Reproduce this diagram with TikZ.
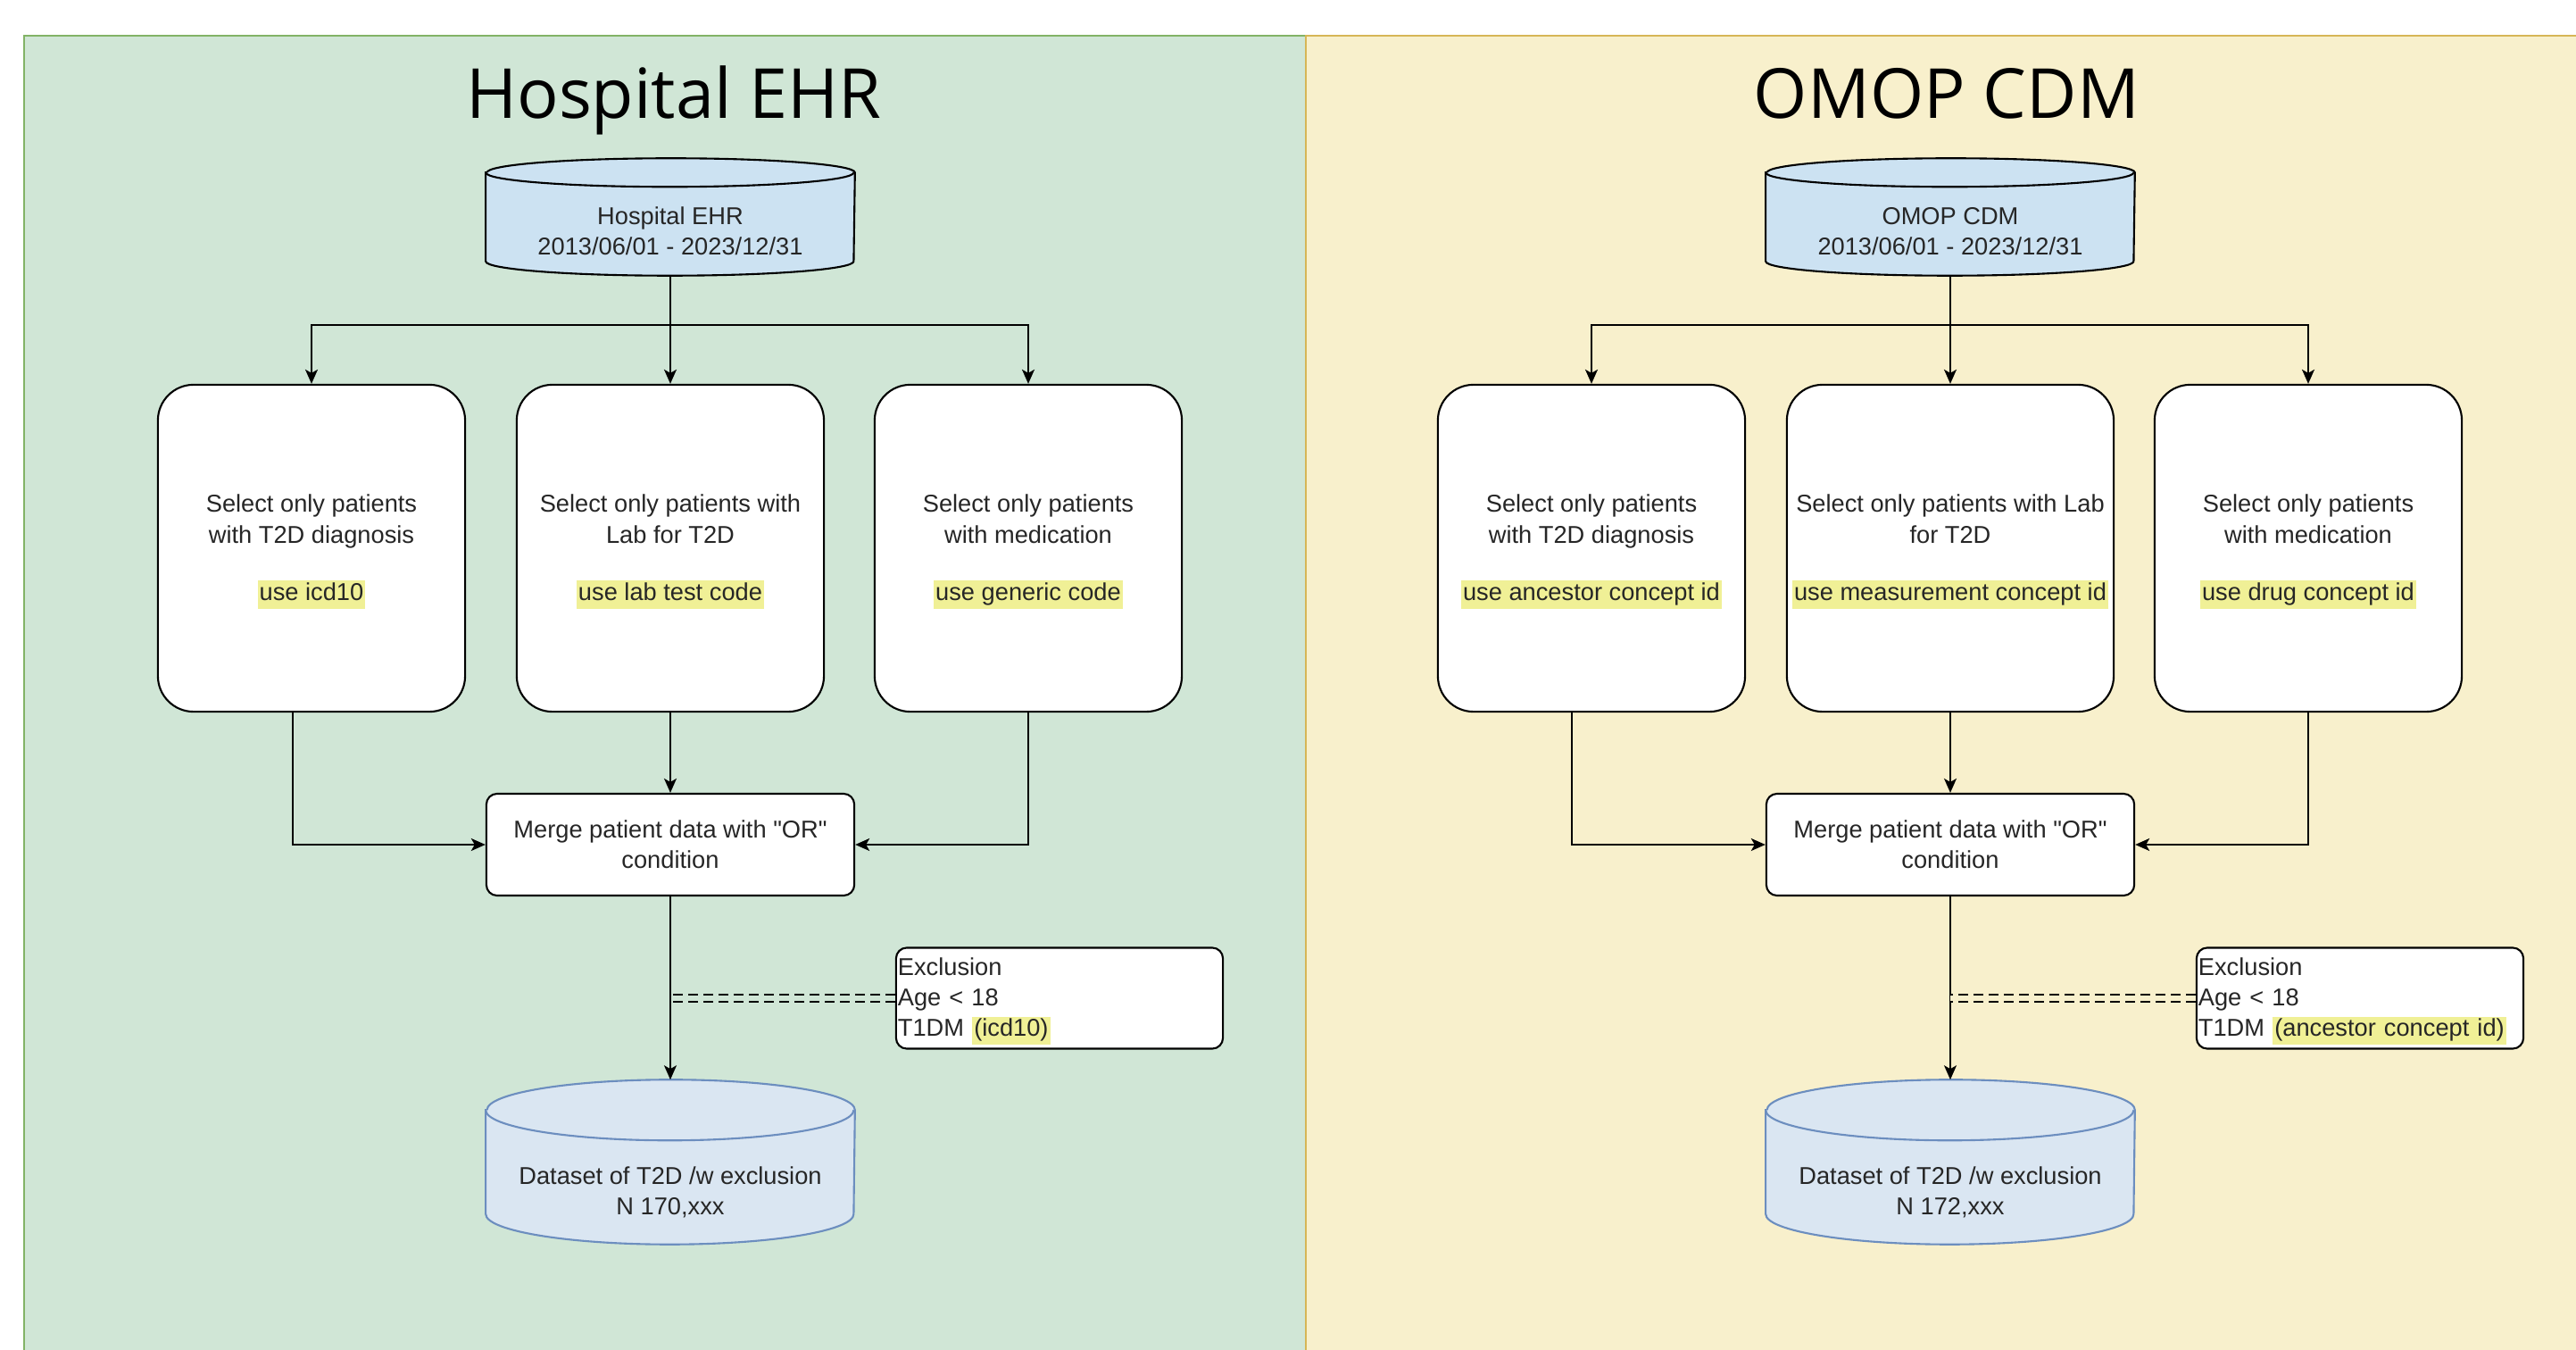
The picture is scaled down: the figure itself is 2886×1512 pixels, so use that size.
\documentclass[tikz,border=0pt]{standalone}
\usepackage{fontspec}
\setmainfont{Liberation Sans}
\newfontfamily\titlefont{Open Sans}
\usepackage{xcolor}
\usetikzlibrary{arrows.meta,calc,backgrounds}

\definecolor{ehrgreen}{RGB}{208,230,214}
\definecolor{ehrline}{RGB}{130,179,102}
\definecolor{omopyellow}{RGB}{248,240,204}
\definecolor{omopline}{RGB}{214,182,86}
\definecolor{dbblue}{RGB}{204,226,242}
\definecolor{setblue}{RGB}{218,230,242}
\definecolor{setline}{RGB}{108,142,191}
\definecolor{hiyel}{RGB}{240,240,150}

% highlighted code text
\newcommand\hlt[1]{{\setlength\fboxsep{0pt}\colorbox{hiyel}{\rule[-2.6pt]{0pt}{8.9pt}\kern0.6pt#1\kern0.6pt}}}
% strut on the first line of a box
\newcommand\topstrut{\rule{0pt}{7.8pt}}
% cylinder round a node: name, ellipse y radius, style
\newcommand\dbshape[3]{%
  \filldraw[#3] ([yshift=#2]#1.north west) -- ([yshift=#2]#1.south west)
    arc[start angle=180, end angle=360, x radius=2.06cm, y radius=#2]
    -- ([yshift=#2]#1.north east)
    arc[start angle=0, end angle=180, x radius=2.06cm, y radius=#2] -- cycle;
  \draw[#3] ([yshift=#2]#1.north west) arc[start angle=180, end angle=360, x radius=2.06cm, y radius=#2];
}

\tikzset{
  body/.style={font=\fontsize{7.75}{9.7}\selectfont, align=center, text=black!85},
  paneltitle/.style={font=\titlefont\fontsize{22}{26}\selectfont, anchor=base},
  dbnode/.style={body, minimum width=4.12cm, inner sep=0pt},
  selbox/.style={body, draw, fill=white, line width=0.6pt, rounded corners=0.4cm, minimum width=3.44cm, minimum height=3.66cm, inner sep=0pt},
  mergebox/.style={body, draw, fill=white, line width=0.6pt, rounded corners=0.12cm, minimum width=4.12cm, minimum height=1.14cm, inner sep=0pt},
  exclbox/.style={body, align=left, draw, fill=white, line width=0.6pt, rounded corners=0.12cm, text width=3.62cm, inner xsep=0.02cm, inner ysep=0pt, minimum height=1.13cm},
  arr/.style={-{Stealth[length=0.16cm, width=0.14cm, inset=0.04cm]}, line width=0.55pt},
  linkline/.style={dash pattern=on 0.11cm off 0.06cm, double=#1, double distance=0.06cm, line width=0.5pt}
}

\begin{document}
\begin{tikzpicture}[x=0.01cm, y=-0.01cm]
\useasboundingbox (0,0) rectangle (2886,1512);

% panels
\begin{pgfonlayer}{background}
  \filldraw[fill=ehrgreen, draw=ehrline, line width=0.7pt] (27,40) rectangle (1463,1540);
  \filldraw[fill=omopyellow, draw=omopline, line width=0.7pt] (1463,40) rectangle (2910,1540);
\end{pgfonlayer}

\node[paneltitle] (ehrtitle) at (755,132) {Hospital EHR};
\node[paneltitle] (omoptitle) at (2181,132) {OMOP CDM};

% hospital EHR side
\node[dbnode, minimum height=0.98cm] (ehrdb) at (751,259) {Hospital EHR\\2013/06/01 - 2023/12/31};
\node[selbox] (ehrdiag) at (349,614) {\topstrut Select only patients\\with T2D diagnosis\\[8.6pt]\hlt{use icd10}};
\node[selbox] (ehrlab) at (751,614) {\topstrut Select only patients with\\Lab for T2D\\[8.6pt]\hlt{use lab test code}};
\node[selbox] (ehrmed) at (1152,614) {\topstrut Select only patients\\with medication\\[8.6pt]\hlt{use generic code}};
\node[mergebox] (ehrmerge) at (751,946) {Merge patient data with \textquotedbl OR\textquotedbl\\condition};
\node[exclbox] (ehrexcl) at (1187,1118) {\rule{0pt}{7.6pt}Exclusion\\Age < 18\\T1DM \hlt{(icd10)}};
\node[dbnode, minimum height=1.15cm] (ehrset) at (751,1335.5) {Dataset of T2D /w exclusion\\N 170,xxx};

% OMOP CDM side
\node[dbnode, minimum height=0.98cm] (omopdb) at (2185,259) {OMOP CDM\\2013/06/01 - 2023/12/31};
\node[selbox] (omopdiag) at (1783,614) {\topstrut Select only patients\\with T2D diagnosis\\[8.6pt]\hlt{use ancestor concept id}};
\node[selbox, minimum width=3.66cm] (omoplab) at (2185,614) {\topstrut Select only patients with Lab\\for T2D\\[8.6pt]\hlt{use measurement concept id}};
\node[selbox] (omopmed) at (2586,614) {\topstrut Select only patients\\with medication\\[8.6pt]\hlt{use drug concept id}};
\node[mergebox] (omopmerge) at (2185,946) {Merge patient data with \textquotedbl OR\textquotedbl\\condition};
\node[exclbox] (omopexcl) at (2644,1118) {\rule{0pt}{7.6pt}Exclusion\\Age < 18\\T1DM \hlt{(ancestor concept id)}};
\node[dbnode, minimum height=1.15cm] (omopset) at (2185,1335.5) {Dataset of T2D /w exclusion\\N 172,xxx};

\begin{pgfonlayer}{background}
  \dbshape{ehrdb}{0.16cm}{fill=dbblue, draw=black, line width=0.6pt}
  \dbshape{ehrset}{0.34cm}{fill=setblue, draw=setline, line width=0.6pt}
  \dbshape{omopdb}{0.16cm}{fill=dbblue, draw=black, line width=0.6pt}
  \dbshape{omopset}{0.34cm}{fill=setblue, draw=setline, line width=0.6pt}
\end{pgfonlayer}

% connectors
\draw[arr] (ehrdb.south) -- ++(0,55) -| (ehrdiag.north);
\draw[arr] (ehrdb.south) -- (ehrlab.north);
\draw[arr] (ehrdb.south) -- ++(0,55) -| (ehrmed.north);
\draw[arr] ([xshift=-0.21cm]ehrdiag.south) |- (ehrmerge.west);
\draw[arr] (ehrlab.south) -- (ehrmerge.north);
\draw[arr] (ehrmed.south) |- (ehrmerge.east);
\draw[arr] (ehrmerge.south) -- ([yshift=0.68cm]ehrset.north);
\draw[linkline=ehrgreen] (ehrexcl.west) -- (ehrexcl.west -| ehrmerge.south);

\draw[arr] (omopdb.south) -- ++(0,55) -| (omopdiag.north);
\draw[arr] (omopdb.south) -- (omoplab.north);
\draw[arr] (omopdb.south) -- ++(0,55) -| (omopmed.north);
\draw[arr] ([xshift=-0.22cm]omopdiag.south) |- (omopmerge.west);
\draw[arr] (omoplab.south) -- (omopmerge.north);
\draw[arr] (omopmed.south) |- (omopmerge.east);
\draw[arr] (omopmerge.south) -- ([yshift=0.68cm]omopset.north);
\draw[linkline=omopyellow] (omopexcl.west) -- (omopexcl.west -| omopmerge.south);
\end{tikzpicture}
\end{document}
